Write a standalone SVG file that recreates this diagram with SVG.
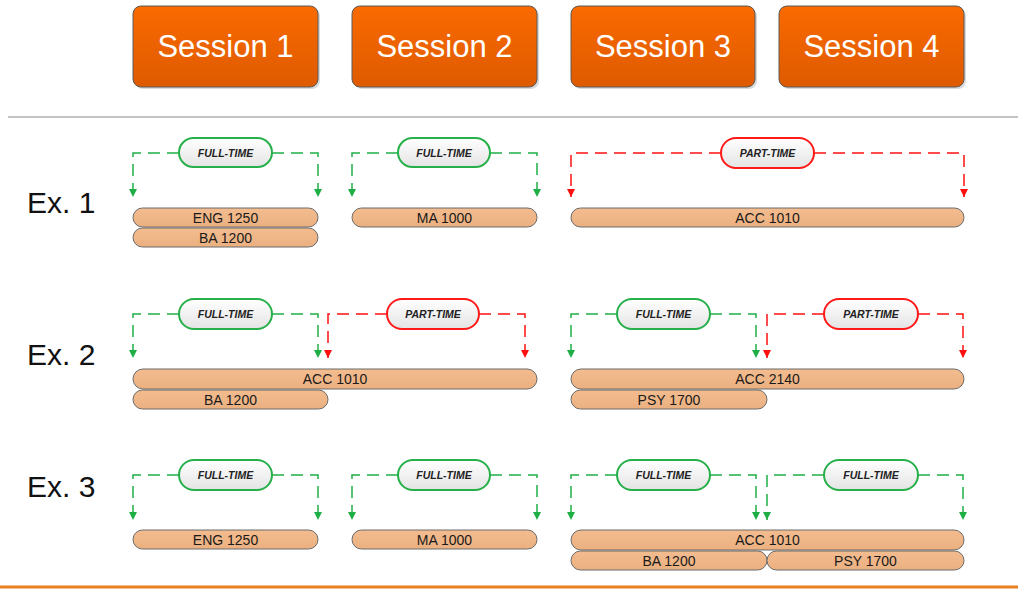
<svg xmlns="http://www.w3.org/2000/svg" width="1018" height="589" viewBox="0 0 1018 589">
<defs>
<linearGradient id="gSess" x1="0" y1="0" x2="0" y2="1">
<stop offset="0" stop-color="#fa6a00"/>
<stop offset="1" stop-color="#de5a00"/>
</linearGradient>
<linearGradient id="gLab" x1="0" y1="0" x2="0" y2="1">
<stop offset="0" stop-color="#ffffff"/>
<stop offset="1" stop-color="#e4e4e4"/>
</linearGradient>
<linearGradient id="gPill" x1="0" y1="0" x2="0" y2="1">
<stop offset="0" stop-color="#f3bc8f"/>
<stop offset="1" stop-color="#ebb080"/>
</linearGradient>
<marker id="ag" viewBox="0 0 10 10" refX="10" refY="5" markerUnits="userSpaceOnUse" markerWidth="8" markerHeight="8" orient="auto">
<path d="M0,0 L10,5 L0,10 z" fill="#1fae45"/>
</marker>
<marker id="ar" viewBox="0 0 10 10" refX="10" refY="5" markerUnits="userSpaceOnUse" markerWidth="8" markerHeight="8" orient="auto">
<path d="M0,0 L10,5 L0,10 z" fill="#ff1010"/>
</marker>
</defs>
<style>
.sess rect.b{fill:url(#gSess);stroke:#5a5a5a;stroke-width:1}
.sess rect.s{fill:#000;opacity:0.15}
.sess text{font-family:"Liberation Sans",Arial,sans-serif;font-size:31px;fill:#fff;text-anchor:middle}
.ex{font-family:"Liberation Sans",Arial,sans-serif;font-size:30px;fill:#111}
.pill rect{fill:url(#gPill);stroke:#6b6b6b;stroke-width:1}
.pill text{font-family:"Liberation Sans",Arial,sans-serif;font-size:14px;fill:#1a1a1a;text-anchor:middle}
.lab rect{fill:url(#gLab);stroke-width:2}
.lab.ft rect{stroke:#26b04a}
.lab.pt rect{stroke:#ff1a1a}
.lab text{font-family:"Liberation Sans",Arial,sans-serif;font-size:10.5px;font-weight:bold;font-style:italic;fill:#222;text-anchor:middle}
.cg{fill:none;stroke:#1fae45;stroke-width:1.5;stroke-dasharray:12,7;marker-end:url(#ag)}
.cr{fill:none;stroke:#ff1010;stroke-width:1.5;stroke-dasharray:12,7;marker-end:url(#ar)}
</style>
<rect width="1018" height="589" fill="#fff"/>

<g id="session1" class="sess"><rect class="s" x="135" y="8" width="185" height="81" rx="8"/><rect class="b" x="133" y="6" width="185" height="81" rx="8"/><text x="225.5" y="57">Session 1</text></g>
<g id="session2" class="sess"><rect class="s" x="354" y="8" width="185" height="81" rx="8"/><rect class="b" x="352" y="6" width="185" height="81" rx="8"/><text x="444.5" y="57">Session 2</text></g>
<g id="session3" class="sess"><rect class="s" x="573" y="8" width="184" height="81" rx="8"/><rect class="b" x="571" y="6" width="184" height="81" rx="8"/><text x="663" y="57">Session 3</text></g>
<g id="session4" class="sess"><rect class="s" x="781" y="8" width="185" height="81" rx="8"/><rect class="b" x="779" y="6" width="185" height="81" rx="8"/><text x="871.5" y="57">Session 4</text></g>

<line x1="8" y1="117" x2="1018" y2="117" stroke="#8a8a8a" stroke-width="1.2"/>
<line x1="0" y1="587" x2="1018" y2="587" stroke="#e8801f" stroke-width="3"/>

<text class="ex" x="27" y="213">Ex. 1</text>
<text class="ex" x="27" y="365">Ex. 2</text>
<text class="ex" x="27" y="497">Ex. 3</text>

<g id="connectors">
<path class="cg" d="M179,153 H133 V197"/>
<path class="cg" d="M272,153 H318 V197"/>
<path class="cg" d="M398,153 H352 V197"/>
<path class="cg" d="M490,153 H537 V197"/>
<path class="cr" d="M721,153 H571 V197"/>
<path class="cr" d="M814,153 H964 V197"/>

<path class="cg" d="M179,314 H133 V358"/>
<path class="cg" d="M272,314 H318 V358"/>
<path class="cr" d="M387,314 H328 V358"/>
<path class="cr" d="M479,314 H525 V358"/>
<path class="cg" d="M617,314 H571 V358"/>
<path class="cg" d="M710,314 H756 V358"/>
<path class="cr" d="M824,314 H767 V358"/>
<path class="cr" d="M918,314 H963 V358"/>

<path class="cg" d="M179,475 H133 V520"/>
<path class="cg" d="M272,475 H318 V520"/>
<path class="cg" d="M398,475 H352 V520"/>
<path class="cg" d="M490,475 H537 V520"/>
<path class="cg" d="M617,475 H571 V520"/>
<path class="cg" d="M710,475 H756 V520"/>
<path class="cg" d="M824,475 H767 V520"/>
<path class="cg" d="M918,475 H963 V520"/>
</g>

<g id="lab-e1-s1" class="lab ft"><rect x="179" y="138" width="93" height="29" rx="14.5"/><text x="225.5" y="156.5">FULL-TIME</text></g>
<g id="lab-e1-s2" class="lab ft"><rect x="398" y="138" width="92" height="29" rx="14.5"/><text x="444" y="156.5">FULL-TIME</text></g>
<g id="lab-e1-s3" class="lab pt"><rect x="721" y="138" width="93" height="30" rx="15"/><text x="767.5" y="157">PART-TIME</text></g>

<g id="lab-e2-s1" class="lab ft"><rect x="179" y="299" width="93" height="30" rx="15"/><text x="225.5" y="318">FULL-TIME</text></g>
<g id="lab-e2-s2" class="lab pt"><rect x="387" y="299" width="92" height="30" rx="15"/><text x="433" y="318">PART-TIME</text></g>
<g id="lab-e2-s3" class="lab ft"><rect x="617" y="299" width="93" height="30" rx="15"/><text x="663.5" y="318">FULL-TIME</text></g>
<g id="lab-e2-s4" class="lab pt"><rect x="824" y="299" width="94" height="30" rx="15"/><text x="871" y="318">PART-TIME</text></g>

<g id="lab-e3-s1" class="lab ft"><rect x="179" y="460" width="93" height="30" rx="15"/><text x="225.5" y="479">FULL-TIME</text></g>
<g id="lab-e3-s2" class="lab ft"><rect x="398" y="460" width="92" height="30" rx="15"/><text x="444" y="479">FULL-TIME</text></g>
<g id="lab-e3-s3" class="lab ft"><rect x="617" y="460" width="93" height="30" rx="15"/><text x="663.5" y="479">FULL-TIME</text></g>
<g id="lab-e3-s4" class="lab ft"><rect x="824" y="460" width="94" height="30" rx="15"/><text x="871" y="479">FULL-TIME</text></g>

<g id="e1-eng1250" class="pill"><rect x="133" y="208" width="185" height="19" rx="9.5"/><text x="225.5" y="222.5">ENG 1250</text></g>
<g id="e1-ba1200" class="pill"><rect x="133" y="228" width="185" height="19" rx="9.5"/><text x="225.5" y="242.5">BA 1200</text></g>
<g id="e1-ma1000" class="pill"><rect x="352" y="208" width="185" height="19" rx="9.5"/><text x="444.5" y="222.5">MA 1000</text></g>
<g id="e1-acc1010" class="pill"><rect x="571" y="208" width="393" height="19" rx="9.5"/><text x="767.5" y="222.5">ACC 1010</text></g>

<g id="e2-acc1010" class="pill"><rect x="133" y="369" width="404" height="20" rx="10"/><text x="335" y="384">ACC 1010</text></g>
<g id="e2-ba1200" class="pill"><rect x="133" y="390" width="195" height="19" rx="9.5"/><text x="230.5" y="404.5">BA 1200</text></g>
<g id="e2-acc2140" class="pill"><rect x="571" y="369" width="393" height="20" rx="10"/><text x="767.5" y="384">ACC 2140</text></g>
<g id="e2-psy1700" class="pill"><rect x="571" y="390" width="196" height="19" rx="9.5"/><text x="669" y="404.5">PSY 1700</text></g>

<g id="e3-eng1250" class="pill"><rect x="133" y="530" width="185" height="19" rx="9.5"/><text x="225.5" y="544.5">ENG 1250</text></g>
<g id="e3-ma1000" class="pill"><rect x="352" y="530" width="185" height="19" rx="9.5"/><text x="444.5" y="544.5">MA 1000</text></g>
<g id="e3-acc1010" class="pill"><rect x="571" y="530" width="393" height="20" rx="10"/><text x="767.5" y="545">ACC 1010</text></g>
<g id="e3-ba1200" class="pill"><rect x="571" y="551" width="196" height="19" rx="9.5"/><text x="669" y="565.5">BA 1200</text></g>
<g id="e3-psy1700" class="pill"><rect x="767" y="551" width="197" height="19" rx="9.5"/><text x="865.5" y="565.5">PSY 1700</text></g>
</svg>
